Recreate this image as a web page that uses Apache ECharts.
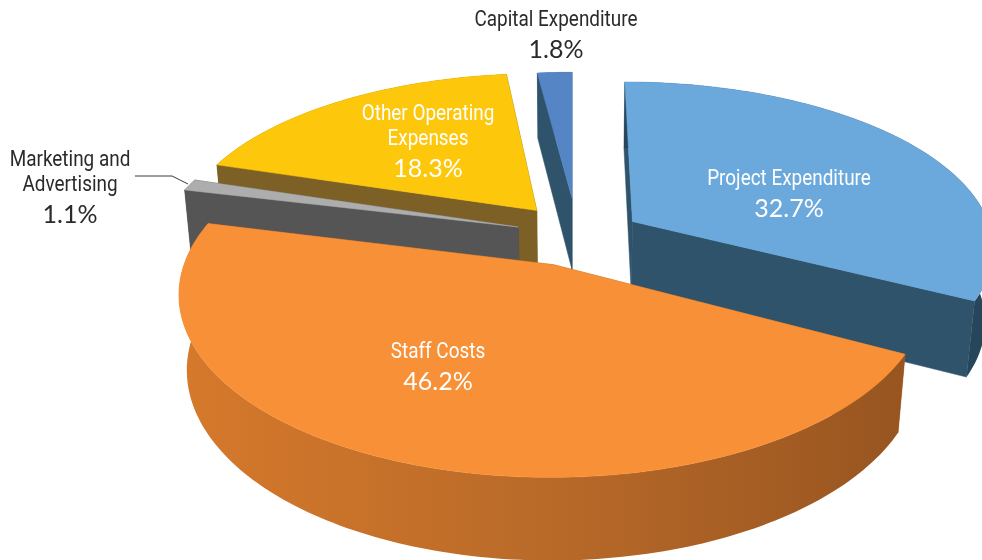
<!DOCTYPE html>
<html>
<head>
<meta charset="utf-8">
<style>
  html, body { margin: 0; padding: 0; background: #fff; }
  #chart { width: 982px; height: 560px; }
</style>
</head>
<body>
<div id="chart"></div>
<script src="https://cdn.jsdelivr.net/npm/echarts@6/dist/echarts.min.js"></script>
<script>
// slices clockwise from 12 o'clock
const categories = ['Project Expenditure', 'Staff Costs', 'Marketing and Advertising', 'Other Operating Expenses', 'Capital Expenditure'];
const shares = [32.7, 46.2, 1.1, 18.3, 1.8];
const labelLines = [['Project Expenditure'], ['Staff Costs'], ['Marketing and', 'Advertising'], ['Other Operating', 'Expenses'], ['Capital Expenditure']];

// styling per slice
const topColors = ['#6ba8db', '#f79036', '#adadad', '#fdc70c', '#5585c5'];
const cutColors = ['#2e536b', '#a85c22', '#555555', '#7c6026', '#2e536b'];
const labelColors = ['#ffffff', '#ffffff', '#2b2a29', '#ffffff', '#2b2a29'];
const labelAnchors = [[789, 168], [438, 341], [70, 149], [428, 103], [556, 9]];
const explode = [[0.17, 0.25], [-0.05, -0.01], [-0.15, 0.216], [-0.1, 0.32], [0, 0.4]];
const radiusY = [1, 1.04, 1, 1, 0.93];
const drawOrder = [3, 4, 2, 1, 0];

// projection of the pie plane, perspective shrinks the far side
const view = { ox: 572, oy: 263, ux: 369, vy: 172, q: 0.15, depthY: 76, depthW: 0.02 };

const project = (x, y, z) => {
  const w = 1 + view.q * y + z * view.depthW;
  return [
    view.ox + (view.ux * x) / w,
    view.oy + (-view.vy * y + z * view.depthY) / w
  ];
};

const total = shares.reduce((a, b) => a + b, 0);

const sliceShape = (start, end, off, ry, color, cutColor, arcFill, z) => {
  const rim = [];
  const steps = Math.max(4, Math.round((end - start) / 0.02));
  for (let i = 0; i <= steps; i++) {
    const t = start + ((end - start) * i) / steps;
    rim.push([off[0] + Math.sin(t), off[1] + ry * Math.cos(t)]);
  }
  const first = rim[0];
  const last = rim[rim.length - 1];
  const topPt = p => project(p[0], p[1], 0);
  const lowPt = p => project(p[0], p[1], 1);
  const poly = (points, fill, stroke) => ({
    type: 'polygon',
    silent: true,
    z2: z,
    shape: { points },
    style: { fill, stroke: stroke || fill, lineWidth: 0.5 }
  });
  const wall = a => poly([topPt(off), topPt(a), lowPt(a), lowPt(off)], cutColor);
  const arcPoints = rim.map(topPt).concat(rim.slice().reverse().map(lowPt));
  return [
    wall(first),
    wall(last),
    poly(arcPoints, arcFill, 'none'),
    poly([topPt(off)].concat(rim.map(topPt)), color)
  ];
};

const renderSlice = (params, api) => {
  const i = params.dataIndex;
  const before = shares.slice(0, i).reduce((a, b) => a + b, 0);
  const start = (before / total) * Math.PI * 2;
  const end = start + (api.value(0) / total) * Math.PI * 2;
  const arcFill = i === 1
    ? {
        type: 'linear', x: 0, y: 0, x2: 1, y2: 0,
        colorStops: [
          { offset: 0, color: '#d6792b' },
          { offset: 0.5, color: '#b96a29' },
          { offset: 1, color: '#985520' }
        ]
      }
    : i === 0 ? '#27465c' : cutColors[i];
  return {
    type: 'group',
    children: sliceShape(start, end, explode[i], radiusY[i], topColors[i], cutColors[i], arcFill, drawOrder[i] * 10)
  };
};

const labelElements = [];
categories.forEach((name, i) => {
  const [cx, top] = labelAnchors[i];
  labelLines[i].forEach((line, n) => {
    labelElements.push({
      type: 'text', x: cx, y: top + n * 25, z: 10, scaleX: 0.86,
      style: {
        text: line, fill: labelColors[i], align: 'center', verticalAlign: 'top',
        font: "22px Roboto, sans-serif"
      }
    });
  });
  labelElements.push({
    type: 'text', x: cx, y: top + labelLines[i].length * 25 + 3, z: 10,
    style: {
      text: shares[i].toFixed(1) + '%', fill: labelColors[i], align: 'center', verticalAlign: 'top',
      font: "25px Lato, sans-serif"
    }
  });
});

// leader line for the small slice
labelElements.push({
  type: 'polyline', z: 10,
  shape: { points: [[135, 176], [172, 176], [188, 184]] },
  style: { stroke: '#3a3a3a', lineWidth: 1, fill: 'none' }
});

const chart = echarts.init(document.getElementById('chart'), null, { renderer: 'canvas' });
chart.setOption({
  animation: false,
  backgroundColor: '#ffffff',
  graphic: labelElements,
  series: [
    {
      type: 'custom',
      coordinateSystem: 'none',
      renderItem: renderSlice,
      data: shares.map((v, i) => ({ name: categories[i], value: [v] }))
    }
  ]
});
</script>
</body>
</html>
